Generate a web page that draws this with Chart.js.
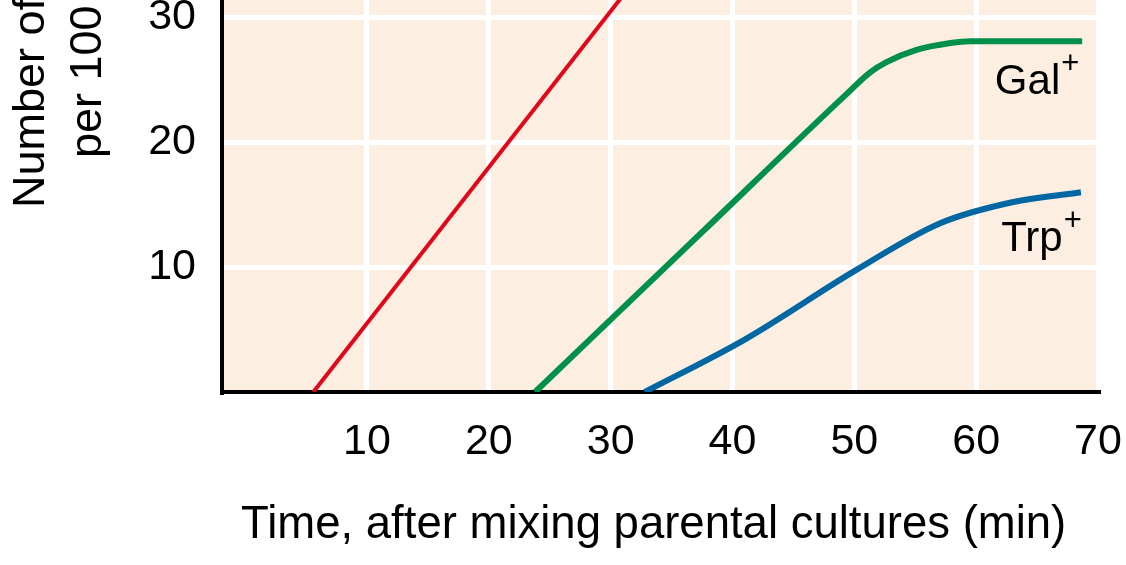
<!DOCTYPE html>
<html>
<head>
<meta charset="utf-8">
<title>Recombinants after mixing parental cultures</title>
<script src="https://cdn.jsdelivr.net/npm/chart.js@4.4.1/dist/chart.umd.min.js"></script>
<style>
  html, body { margin: 0; padding: 0; background: #fff; }
  #wrap { width: 1126px; height: 565px; }
</style>
</head>
<body>
<div id="wrap"><canvas id="chart" width="1126" height="565"></canvas></div>
<script>
// values: minutes after mixing vs recombinants per 100
const xTicks = [10, 20, 30, 40, 50, 60, 70];
const yTicks = [10, 20, 30];

const earlyX = [5.6, 31.2];
const earlyY = [0, 32];

const galX = [23.8, 37.5, 49.4, 51.3, 52.6, 55.1, 57.9, 59.5, 68.7];
const galY = [0, 12.8, 23.9, 25.6, 26.4, 27.4, 27.95, 28.1, 28.1];

const trpX = [32.8, 41, 50.2, 57, 62.5, 68.6];
const trpY = [0, 4.2, 9.8, 13.5, 15.1, 16.0];

// curve name labels, anchored in data units (right end of word, baseline)
const curveNames = ['Gal', 'Trp'];
const curveLabelX = [66.9, 67.1];
const curveLabelY = [23.9, 11.3];

const FONT = '"Liberation Sans", Arial, Helvetica, sans-serif';

function points(xs, ys) {
  return xs.map((x, i) => ({ x, y: ys[i] }));
}

const paperFrame = {
  id: 'paperFrame',
  beforeDraw(chart) {
    const { ctx, chartArea: a } = chart;
    ctx.save();
    ctx.fillStyle = '#fcefe2';
    ctx.fillRect(a.left, a.top, a.right - a.left, a.bottom - a.top);
    ctx.restore();
  },
  afterDraw(chart) {
    const { ctx } = chart;
    const sx = chart.scales.x;
    const sy = chart.scales.y;

    ctx.save();
    ctx.fillStyle = '#000';
    ctx.textBaseline = 'alphabetic';

    // curve labels with superscript plus
    curveNames.forEach((name, i) => {
      const xr = sx.getPixelForValue(curveLabelX[i]);
      const yb = sy.getPixelForValue(curveLabelY[i]);
      ctx.font = `42px ${FONT}`;
      ctx.textAlign = 'right';
      ctx.fillText(name, xr, yb);
      ctx.font = `31px ${FONT}`;
      ctx.textAlign = 'left';
      ctx.fillText('+', xr + 1, yb - 21);
    });

    // y axis title, cut off by the top edge like the source crop
    ctx.font = `45px ${FONT}`;
    ctx.textAlign = 'left';
    ctx.save();
    ctx.translate(44, 208);
    ctx.rotate(-Math.PI / 2);
    ctx.fillText('Number of', 0, 0);
    ctx.restore();
    ctx.save();
    ctx.translate(101, 158);
    ctx.rotate(-Math.PI / 2);
    ctx.fillText('per 100', 0, 0);
    ctx.restore();

    ctx.restore();
  }
};

new Chart(document.getElementById('chart'), {
  type: 'line',
  data: {
    datasets: [
      {
        label: 'early marker',
        data: points(earlyX, earlyY),
        borderColor: '#e2061b',
        borderWidth: 4,
        pointRadius: 0,
        tension: 0
      },
      {
        label: 'Gal+',
        data: points(galX, galY),
        borderColor: '#00904a',
        borderWidth: 6,
        pointRadius: 0,
        cubicInterpolationMode: 'monotone'
      },
      {
        label: 'Trp+',
        data: points(trpX, trpY),
        borderColor: '#0067a3',
        borderWidth: 6,
        pointRadius: 0,
        cubicInterpolationMode: 'monotone'
      }
    ]
  },
  options: {
    responsive: false,
    animation: false,
    devicePixelRatio: 1,
    layout: { padding: { left: 0, right: 28, top: 0, bottom: 0 } },
    plugins: {
      legend: { display: false },
      tooltip: { enabled: false }
    },
    scales: {
      x: {
        type: 'linear',
        min: -1.9,
        max: 70,
        afterBuildTicks: (s) => { s.ticks = xTicks.map((v) => ({ value: v })); },
        afterFit: (s) => { s.height = 173; s.paddingLeft = 0; s.paddingRight = 0; },
        grid: { color: '#fff', lineWidth: 5, drawTicks: false },
        border: { color: '#000', width: 4 },
        ticks: { color: '#000', font: { family: FONT, size: 43 }, padding: 24, maxRotation: 0, autoSkip: false },
        title: {
          display: true,
          // trailing space nudges the centred title slightly left, as in the source
          text: 'Time, after mixing parental cultures (min) ',
          color: '#000',
          font: { family: FONT, size: 45.5 },
          padding: { top: 0, bottom: 12 }
        }
      },
      y: {
        type: 'linear',
        min: 0,
        max: 31.4,
        afterBuildTicks: (s) => { s.ticks = yTicks.map((v) => ({ value: v })); },
        afterFit: (s) => { s.width = 222; s.paddingTop = 0; s.paddingBottom = 0; },
        grid: { color: '#fff', lineWidth: 5, drawTicks: false },
        border: { color: '#000', width: 4 },
        ticks: { color: '#000', font: { family: FONT, size: 43 }, padding: 26 }
      }
    }
  },
  plugins: [paperFrame]
});
</script>
</body>
</html>
